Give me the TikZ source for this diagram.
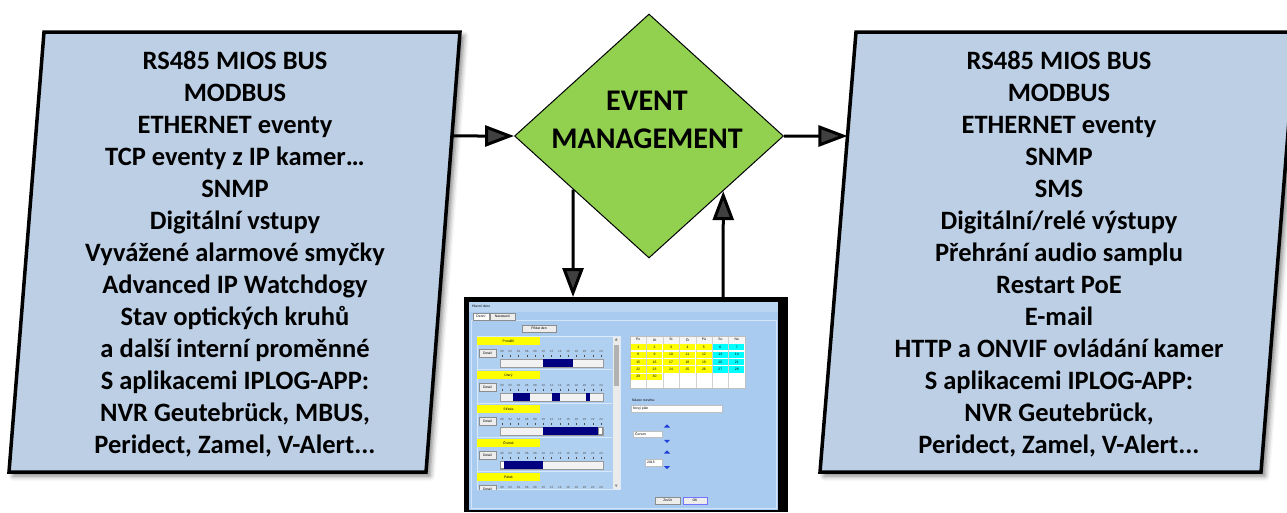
\documentclass[tikz,border=0pt]{standalone}
\usepackage{fontspec}
\setmainfont{Carlito}
\newfontfamily\uifont{Liberation Sans}
\usetikzlibrary{arrows.meta,shapes.geometric,shadows.blur,calc}

\definecolor{boxblue}{HTML}{BDCFE5}
\definecolor{evgreen}{HTML}{92D050}
\definecolor{winblue}{HTML}{A9CBEF}
\definecolor{titleblue}{HTML}{B9D5F2}
\definecolor{listblue}{HTML}{B0D0F1}
\definecolor{dayyellow}{HTML}{FFFF00}
\definecolor{calcyan}{HTML}{00FFFF}
\definecolor{segnavy}{HTML}{000080}
\definecolor{btngray}{HTML}{EDEDED}
\definecolor{spinblue}{HTML}{1E3CD8}

\tikzset{
  panel/.style={fill=boxblue, draw=black, line width=3.5pt, line join=miter,
    blur shadow={shadow xshift=4pt, shadow yshift=-4pt, shadow blur radius=5pt, shadow opacity=50}},
  listtext/.style={font=\fontsize{26.5}{32}\selectfont\bfseries, align=center, inner sep=0pt},
  arr/.style={line width=3pt, -{Triangle[length=29pt,width=21pt]}},
  uibtn/.style={fill=btngray, draw=black!45, line width=0.4pt},
  fld/.style={fill=white, draw=black!25, line width=0.3pt},
  uitxt/.style={font=\uifont\fontsize{3.4}{4}\selectfont, inner sep=0pt},
  hourtxt/.style={font=\uifont\fontsize{3}{3.5}\selectfont, inner sep=0pt, text=black!70},
  tickln/.style={line width=0.4pt, black!70},
  bar/.style={fill=black!5, draw=black!40, line width=0.4pt},
  sepln/.style={line width=0.5pt, white!55!winblue},
}

\begin{document}
\begin{tikzpicture}[x=1pt,y=-1pt]
\useasboundingbox (0,0) rectangle (1287,512);

% ---- input sources ----
\coordinate (L1) at (44,32);
\coordinate (L2) at (460,32);
\coordinate (L3) at (426,472);
\coordinate (L4) at (9,472);
\draw[panel] (L1) -- (L2) -- (L3) -- (L4) -- cycle;
\node[listtext] (inputs) at (235,254) {RS485 MIOS BUS\\MODBUS\\ETHERNET eventy\\TCP eventy z IP kamer…\\SNMP\\Digitální vstupy\\Vyvážené alarmové smyčky\\Advanced IP Watchdogy\\Stav optických kruhů\\a další interní proměnné\\S aplikacemi IPLOG-APP:\\NVR Geutebrück, MBUS,\\Peridect, Zamel, V-Alert...};

% ---- output actions ----
\coordinate (R1) at (856,32);
\coordinate (R2) at (1296,32);
\coordinate (R3) at (1261,472);
\coordinate (R4) at (820,472);
\draw[panel] (R1) -- (R2) -- (R3) -- (R4) -- cycle;
\node[listtext] (outputs) at (1059,254) {RS485 MIOS BUS\\MODBUS\\ETHERNET eventy\\SNMP\\SMS\\Digitální/relé výstupy\\Přehrání audio samplu\\Restart PoE\\E-mail\\HTTP a ONVIF ovládání kamer\\S aplikacemi IPLOG-APP:\\NVR Geutebrück,\\Peridect, Zamel, V-Alert...};

% ---- event management ----
\node[diamond, draw=black, fill=evgreen, line width=1pt, minimum width=269pt,
      minimum height=244pt, inner sep=0pt] (dm) at (649,136) {};
\node[font=\fontsize{30}{38}\selectfont\bfseries, align=center, inner sep=0pt] (dmtxt) at (647,120) {EVENT\\MANAGEMENT};

% ---- scheduler window ----
\node[fill=black, minimum width=324pt, minimum height=215pt, inner sep=0pt,
      anchor=north west] (scr) at (464,297) {};
\fill[winblue] (469,302) rectangle (778,510);
\fill[titleblue] (469,302) rectangle (778,312);
\node[uitxt, anchor=west] (wtitle) at (472,306.5) {Hlavní okno};
\draw[line width=0.5pt, white!50!winblue] (471,320) rectangle (776,508);

% tabs and top button
\draw[uibtn, fill=white] (473,313) rectangle (489,320);
\node[uitxt] (tabA) at (481,316.5) {Denní};
\draw[uibtn] (490,313) rectangle (515,320);
\node[uitxt] (tabB) at (502.5,316.5) {Nastavení};
\draw[uibtn] (522,325) rectangle (556,332);
\node[uitxt] (addday) at (539,328.5) {Přidat den};

% day list
\draw[fill=listblue, draw=white!60!winblue, line width=0.5pt] (477,336) rectangle (620,489);
\begin{scope}
\clip (477,336) rectangle (612,489);
\foreach \d [count=\i from 0] in {Pondělí,Úterý,Středa,Čtvrtek,Pátek} {
  \pgfmathsetmacro\yo{337+34*\i}
  \fill[dayyellow] (477,\yo) rectangle (540,\yo+8);
  \node[uitxt] (day-\i) at (508.5,\yo+4) {\d};
  \draw[uibtn] (479,\yo+12) rectangle (496,\yo+20);
  \node[uitxt] (det-\i) at (487.5,\yo+16) {Detail};
  \foreach \k in {0,...,12} {
    \pgfmathsetmacro\hx{502+8.25*\k}
    \pgfmathtruncatemacro\hh{2*\k}
    \node[hourtxt] (h-\i-\k) at (\hx,\yo+14.5) {\ifnum\hh<10 0\fi\hh};
    \draw[tickln] (\hx,\yo+17.5) -- (\hx,\yo+20);
  }
  \draw[bar] (500,\yo+22) rectangle (603,\yo+30);
  \draw[sepln] (477,\yo+32.5) -- (612,\yo+32.5);
}
% scheduled intervals
\fill[segnavy] (543,359.4) rectangle (573,366.6);
\fill[segnavy] (513,393.4) rectangle (530,400.6);
\fill[segnavy] (552,393.4) rectangle (560,400.6);
\fill[segnavy] (586,393.4) rectangle (590,400.6);
\fill[segnavy] (543,427.4) rectangle (598,434.6);
\draw[uibtn, fill=white] (598.5,427.5) rectangle (602.5,434.5);
\draw[uibtn, fill=white] (500.5,461.5) rectangle (504,468.5);
\fill[segnavy] (504,461.4) rectangle (543,468.6);
\end{scope}
% scrollbar
\fill[black!8] (613,336.5) rectangle (619.5,488.5);
\fill[black!30] (614,345) rectangle (618.5,386);
\fill[black!50] (616.2,338) -- (614.8,340.5) -- (617.6,340.5) -- cycle;
\fill[black!50] (616.2,487) -- (614.8,484.5) -- (617.6,484.5) -- cycle;

% month calendar
\fill[white] (630,336) rectangle (745,388);
\fill[black!4] (630,336) rectangle (745,343.5);
\foreach \c in {1,...,6}
  \draw[black!18, line width=0.3pt] (630+16.43*\c,336) -- (630+16.43*\c,388);
\foreach \h [count=\c from 0] in {Po,Út,St,Čt,Pá,So,Ne}
  \node[uitxt] (ch-\c) at (638.2+16.43*\c,339.7) {\h};
\foreach \r in {0,...,4} {
  \foreach \c in {0,...,6} {
    \pgfmathtruncatemacro\dd{\r*7+\c+1}
    \ifnum\dd<31
      \ifnum\c>4 \def\cc{calcyan}\else\def\cc{dayyellow}\fi
      \fill[\cc] (630.6+16.43*\c,344.1+7.4*\r) rectangle (645.9+16.43*\c,350.3+7.4*\r);
      \node[uitxt] (cd-\r-\c) at (638.2+16.43*\c,347.2+7.4*\r) {\dd};
    \fi
  }
}
\draw[black!25, line width=0.4pt] (630,336) rectangle (745,388);

% schedule name
\node[uitxt, anchor=west] (nmlbl) at (632,400.5) {Název rozvrhu:};
\draw[fld] (631,405) rectangle (722,412);
\node[uitxt, anchor=west] (nm) at (633,408.5) {Nový plán};

% month and year spinners
\draw[fld] (633,431) rectangle (662,437.5);
\node[uitxt, anchor=west] (month) at (635,434.3) {Červen};
\fill[spinblue] (664,427.5) -- (670,427.5) -- (667,424.3) -- cycle;
\fill[spinblue] (664,439.8) -- (670,439.8) -- (667,443) -- cycle;
\draw[fld] (645,459) rectangle (662,466);
\node[uitxt, anchor=west] (year) at (647,462.5) {2015};
\fill[spinblue] (664,453.5) -- (670,453.5) -- (667,450.3) -- cycle;
\fill[spinblue] (664,466) -- (670,466) -- (667,469.2) -- cycle;

% dialog buttons
\draw[uibtn] (655,497) rectangle (680,504);
\node[uitxt] (cancel) at (667.5,500.5) {Zrušit};
\draw[uibtn, draw=blue!55] (683,497) rectangle (707,504);
\node[uitxt] (ok) at (695,500.5) {OK};

% ---- connectors ----
\draw[arr] (intersection of L2--L3 and dm.west--dm.east) -- (dm.west);
\draw[arr] (dm.east) -- (intersection of R1--R4 and dm.west--dm.east);
\coordinate (dIn) at ($(scr.north west)!0.336!(scr.north east)$);
\coordinate (dUp) at (dIn |- dm.center);
\draw[arr] (intersection of dm.west--dm.south and dIn--dUp) -- (dIn);
\coordinate (uIn) at ($(scr.north west)!0.799!(scr.north east)$);
\coordinate (uUp) at (uIn |- dm.center);
\draw[arr] (uIn) -- (intersection of dm.south--dm.east and uIn--uUp);
\end{tikzpicture}
\end{document}
